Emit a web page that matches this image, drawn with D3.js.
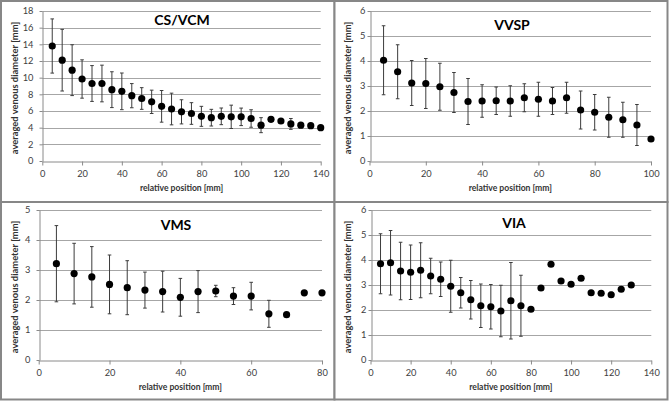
<!DOCTYPE html>
<html>
<head>
<meta charset="utf-8">
<script src="https://cdn.jsdelivr.net/npm/d3@7"></script>
<style>
  body { margin: 0; background: #fff; }
  svg { display: block; }
  .tick text { font-family: Lato, "Open Sans", sans-serif; font-size: 9.3px; fill: #404040; }
  .tick line, .domain { stroke: #8a8a8a; }
</style>
</head>
<body>
<div class="container"></div>
<script>
// CS/VCM
var csvcmPos  = [5,10,15,20,25,30,35,40,45,50,55,60,65,70,75,80,85,90,95,100,105,110,115,120,125,130,135,140];
var csvcmMean = [13.8,12.1,10.9,9.84,9.3,9.3,8.56,8.36,7.84,7.5,7.1,6.56,6.24,5.9,5.7,5.36,5.2,5.36,5.3,5.3,5.1,4.3,5.0,4.8,4.45,4.3,4.24,4.0];
var csvcmSd   = [3.25,3.7,3.05,2.3,2.15,2.2,2.15,2.2,1.45,1.3,1.4,1.9,1.9,1.45,1.3,1.2,1.0,1.0,1.4,1.05,1.05,0.9,0.3,0.2,0.65,0.3,0.2,0];
var csvcmXTicks = [0,20,40,60,80,100,120,140];
var csvcmYTicks = [0,2,4,6,8,10,12,14,16,18];

// VVSP
var vvspPos  = [5,10,15,20,25,30,35,40,45,50,55,60,65,70,75,80,85,90,95,100];
var vvspMean = [4.03,3.57,3.12,3.1,2.97,2.74,2.38,2.4,2.41,2.4,2.53,2.47,2.4,2.53,2.04,1.95,1.75,1.65,1.44,0.88];
var vvspSd   = [1.38,1.08,0.9,1.0,0.94,0.8,0.92,0.65,0.55,0.61,0.56,0.68,0.54,0.62,0.76,0.71,0.8,0.7,0.82,0];
var vvspXTicks = [0,20,40,60,80,100];
var vvspYTicks = [0,1,2,3,4,5,6];

// VMS
var vmsPos  = [5,10,15,20,25,30,35,40,45,50,55,60,65,70,75,80];
var vmsMean = [3.21,2.88,2.77,2.52,2.41,2.33,2.28,2.09,2.28,2.3,2.13,2.13,1.54,1.51,2.24,2.24];
var vmsSd   = [1.27,1.01,1.01,0.98,0.9,0.6,0.68,0.63,0.7,0.19,0.28,0.46,0.45,0,0,0];
var vmsXTicks = [0,20,40,60,80];
var vmsYTicks = [0,1,2,3,4,5];

// VIA
var viaPos  = [5,10,15,20,25,30,35,40,45,50,55,60,65,70,75,80,85,90,95,100,105,110,115,120,125,130];
var viaMean = [3.85,3.89,3.56,3.51,3.59,3.36,3.23,2.95,2.69,2.41,2.17,2.13,1.96,2.37,2.17,2.03,2.88,3.83,3.16,3.03,3.27,2.69,2.67,2.61,2.83,3.0];
var viaSd   = [1.2,1.29,1.15,1.09,1.1,0.71,0.69,1.04,0.61,0.77,0.87,0.89,1.03,1.53,1.22,0,0,0,0,0,0,0,0,0.1,0,0];
var viaXTicks = [0,20,40,60,80,100,120,140];
var viaYTicks = [0,1,2,3,4,5,6];

var panels = [
  {title: "CS/VCM", pos: csvcmPos, mean: csvcmMean, sd: csvcmSd, xt: csvcmXTicks, yt: csvcmYTicks,
   frame: [1, 1, 333.5, 201], plot: [42.3, 320.7, 11, 161], titleXY: [182, 25], pad: 9, yTitleX: 15},
  {title: "VVSP", pos: vvspPos, mean: vvspMean, sd: vvspSd, xt: vvspXTicks, yt: vvspYTicks,
   frame: [334.5, 1, 333, 201], plot: [369.5, 651, 11, 161], titleXY: [512, 30], pad: 5, yTitleX: 348},
  {title: "VMS", pos: vmsPos, mean: vmsMean, sd: vmsSd, xt: vmsXTicks, yt: vmsYTicks,
   frame: [1, 202, 333.5, 197.5], plot: [38.7, 322, 210, 360], titleXY: [176, 230], pad: 9, yTitleX: 15},
  {title: "VIA", pos: viaPos, mean: viaMean, sd: viaSd, xt: viaXTicks, yt: viaYTicks,
   frame: [334.5, 202, 333, 197.5], plot: [370.5, 651.3, 210, 360], titleXY: [514, 228], pad: 5, yTitleX: 348}
];

var svg = d3.select(".container").append("svg")
  .attr("width", 669).attr("height", 402);

panels.forEach(function(p) {
  var g = svg.append("g");
  var x = d3.scaleLinear().domain([0, d3.max(p.xt)]).range([p.plot[0], p.plot[1]]);
  var y = d3.scaleLinear().domain([0, d3.max(p.yt)]).range([p.plot[3], p.plot[2]]);

  g.append("rect")
    .attr("x", p.frame[0]).attr("y", p.frame[1])
    .attr("width", p.frame[2]).attr("height", p.frame[3])
    .style("fill", "#fff").style("stroke", "#878787").style("stroke-width", 2);

  // gridlines
  g.selectAll(".grid").data(p.yt.slice(1)).enter().append("line")
    .attr("x1", x.range()[0]).attr("x2", x.range()[1])
    .attr("y1", function(d) { return Math.round(y(d)) + 0.5; })
    .attr("y2", function(d) { return Math.round(y(d)) + 0.5; })
    .style("stroke", "#a6a6a6").style("stroke-width", 1);

  g.append("g")
    .attr("transform", "translate(" + (Math.round(p.plot[0]) + 0.5) + ",0)")
    .call(d3.axisLeft(y).tickValues(p.yt).tickFormat(d3.format("d"))
      .tickSize(3).tickSizeOuter(0).tickPadding(p.pad - 3));
  g.append("g")
    .attr("transform", "translate(0," + (Math.round(p.plot[3]) + 0.5) + ")")
    .call(d3.axisBottom(x).tickValues(p.xt).tickFormat(d3.format("d"))
      .tickSize(4).tickSizeOuter(0).tickPadding(5));

  g.append("text")
    .attr("x", p.titleXY[0]).attr("y", p.titleXY[1])
    .attr("text-anchor", "middle")
    .style("font-family", "Lato, sans-serif").style("font-weight", "bold")
    .style("font-size", "14px").style("fill", "#000")
    .text(p.title);

  g.append("text")
    .attr("x", (p.plot[0] + p.plot[1]) / 2).attr("y", p.plot[3] + 30)
    .attr("text-anchor", "middle")
    .style("font-family", "Lato, sans-serif").style("font-weight", "bold")
    .style("font-size", "8.6px").style("fill", "#333")
    .text("relative position [mm]");

  g.append("text")
    .attr("transform", "translate(" + (p.yTitleX + 3) + "," + ((p.plot[2] + p.plot[3]) / 2 + 2) + ") rotate(-90)")
    .attr("text-anchor", "middle")
    .style("font-family", "Lato, sans-serif").style("font-weight", "bold")
    .style("font-size", "9.4px").style("fill", "#333")
    .text("averaged venous diameter [mm]");

  var pts = p.pos.map(function(d, i) { return {x: d, m: p.mean[i], s: p.sd[i]}; });
  var bars = g.selectAll(".eb").data(pts.filter(function(d) { return d.s > 0; })).enter().append("g");
  bars.append("line")
    .attr("x1", function(d) { return x(d.x); }).attr("x2", function(d) { return x(d.x); })
    .attr("y1", function(d) { return y(d.m + d.s); }).attr("y2", function(d) { return y(d.m - d.s); });
  bars.append("line")
    .attr("x1", function(d) { return x(d.x) - 1.8; }).attr("x2", function(d) { return x(d.x) + 1.8; })
    .attr("y1", function(d) { return y(d.m + d.s); }).attr("y2", function(d) { return y(d.m + d.s); });
  bars.append("line")
    .attr("x1", function(d) { return x(d.x) - 1.8; }).attr("x2", function(d) { return x(d.x) + 1.8; })
    .attr("y1", function(d) { return y(d.m - d.s); }).attr("y2", function(d) { return y(d.m - d.s); });
  bars.selectAll("line").style("stroke", "#3c3c3c").style("stroke-width", 1);

  g.selectAll("circle").data(pts).enter().append("circle")
    .attr("cx", function(d) { return x(d.x); })
    .attr("cy", function(d) { return y(d.m); })
    .attr("r", 3.6)
    .style("fill", "#000");
});
</script>
</body>
</html>
